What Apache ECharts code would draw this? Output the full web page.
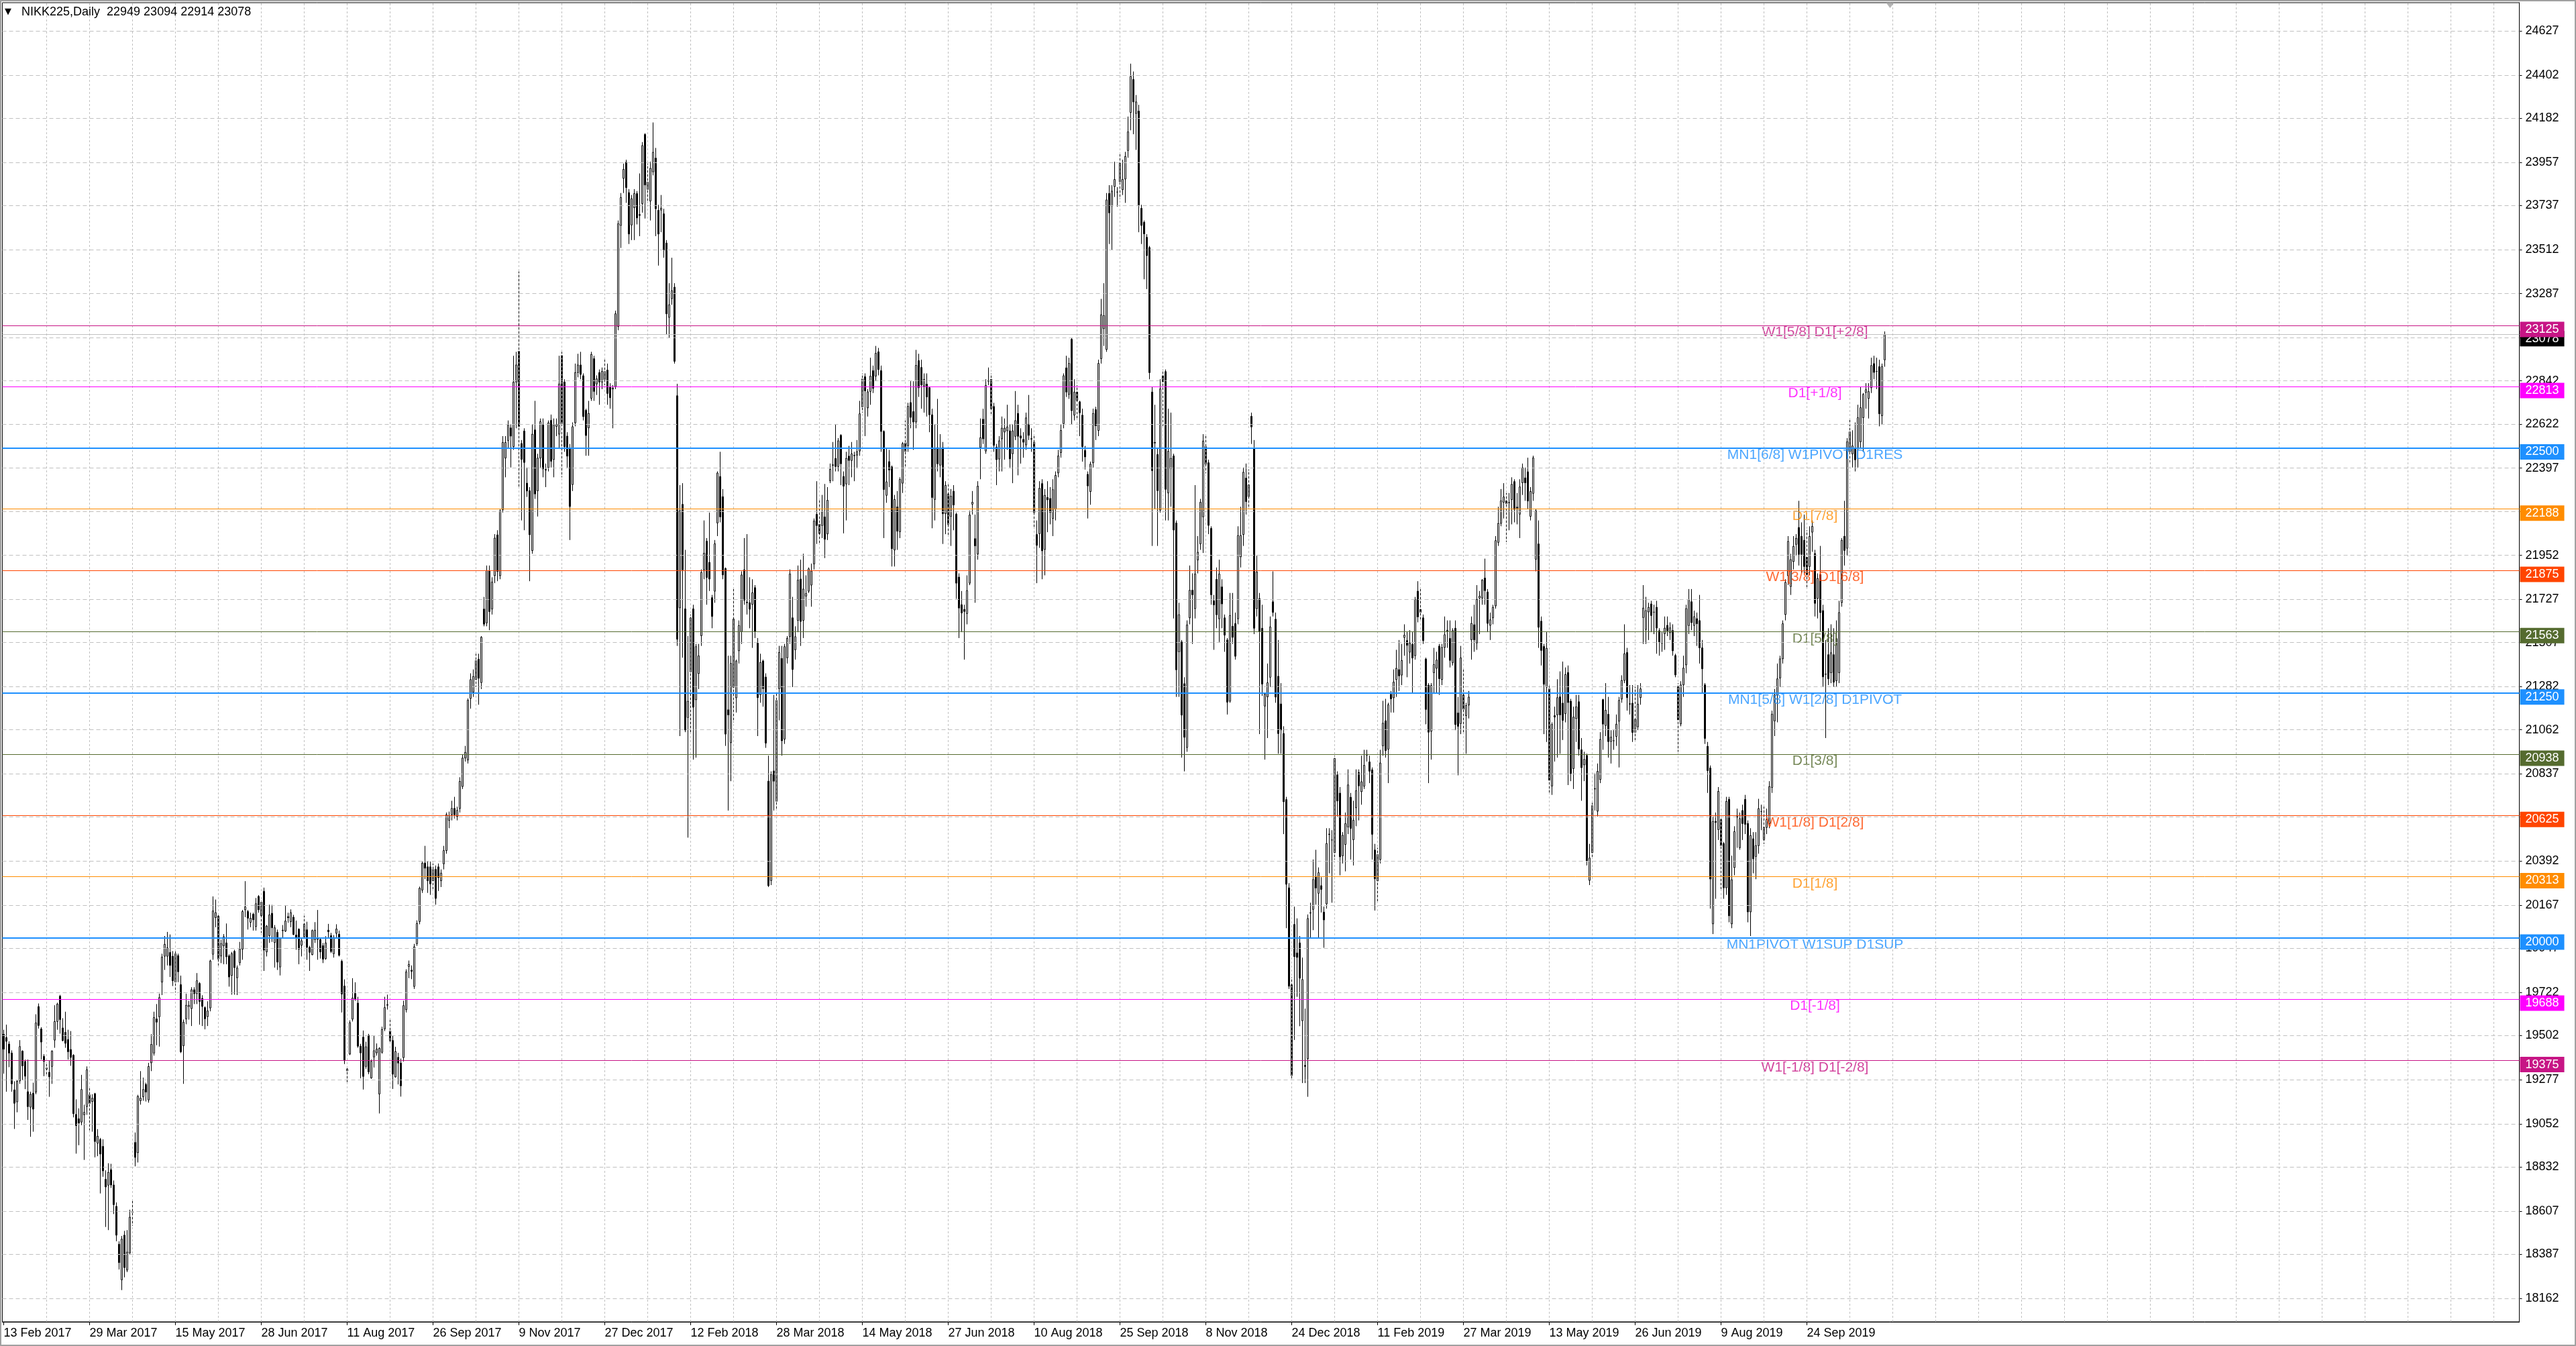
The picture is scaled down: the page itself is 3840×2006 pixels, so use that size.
<!DOCTYPE html>
<html>
<head>
<meta charset="utf-8">
<script src="https://cdn.jsdelivr.net/npm/echarts@6/dist/echarts.min.js"></script>
<style>html,body{margin:0;padding:0;background:#fff;}#c{width:3840px;height:2006px;}</style>
</head>
<body>
<div id="c"></div>
<script>
// ---------------- DATA ----------------
const symbolName = 'NIKK225,Daily';
const opens = [
19509,19492,19459,19413,19225,19164,19271,19423,19370,19216,
19137,19208,19214,19650,19536,19396,19331,19315,19345,19479,
19574,19703,19541,19519,19482,19431,19402,19100,19078,19061,
19098,19140,19200,19166,19206,18953,18972,18937,18769,18739,
18818,18740,18631,18438,18256,18484,18306,18394,18601,18957,
18905,19170,19190,19253,19174,19363,19413,19587,19598,19775,
19907,19907,19926,19907,19775,19910,19762,19450,19587,19650,
19640,19736,19716,19768,19692,19645,19599,19643,19917,20104,
20112,19908,19960,19975,19909,19809,19932,19797,19874,19943,
20144,20135,20080,20121,20058,20212,20114,20238,19929,20012,
20126,19977,20029,19852,20037,20035,20109,20083,20106,20015,
20045,19963,20007,20042,19952,19915,19992,19995,19992,19961,
19895,20040,20012,19920,20024,20019,19881,19755,19322,19408,
19586,19717,19668,19448,19494,19345,19503,19286,19393,19414,
19204,19417,19536,19657,19526,19477,19291,19391,19362,19390,
19634,19855,19836,19753,19971,20084,20244,20382,20363,20363,
20292,20350,20363,20292,20378,20446,20600,20629,20661,20620,
20661,20773,20918,20908,21222,21254,21318,21422,21303,21678,
21607,21874,21678,21848,22056,21848,22185,22448,22538,22602,
22506,22836,22993,22522,22586,22320,22281,21976,22592,22281,
22448,22618,22390,22400,22640,22441,22610,22570,22971,22836,
22560,22496,22313,22628,22884,22923,22868,22692,22602,22753,
22955,22826,22884,22836,22849,22897,22810,22800,22813,23119,
23635,23875,23957,23802,23637,23725,23797,23690,23746,24099,
23818,23759,23908,23978,23712,23713,23694,23545,23166,23261,
23320,22766,21684,22212,21679,21125,21357,21679,21215,21349,
21542,21878,22024,21916,21736,21769,22117,22354,22251,21885,
21164,20996,21279,21225,21465,21563,21878,21713,21710,21702,
21787,21504,21241,21413,21331,20800,20293,20852,20697,21272,
21426,21014,21429,21537,21633,21470,21620,21831,21620,21744,
21769,21800,21908,22161,22110,22104,22148,22061,22332,22410,
22446,22405,22564,22354,22316,22458,22436,22460,22463,22484,
22708,22863,22704,22788,22894,22866,22990,22894,22584,22258,
22430,22403,21979,22199,22072,22320,22525,22511,22731,22685,
22632,22945,22910,22814,22825,22807,22669,22237,22502,22412,
22502,22164,22265,22151,22279,22162,21841,21700,21676,21655,
21810,22213,22037,21958,22502,22646,22484,22840,22850,22711,
22504,22443,22546,22581,22587,22587,22470,22559,22676,22561,
22543,22515,22621,22547,22529,22058,22062,22318,21982,22247,
22242,22140,22188,22372,22476,22624,22908,22773,23054,22667,
22785,22735,22667,22487,22365,22277,22424,22695,22589,22955,
23108,23002,23798,23734,23833,23805,23857,23817,23871,24017,
24211,24379,24206,24218,23722,23651,23574,23522,22785,22528,
22466,22183,22868,22889,22270,22395,22459,22117,21460,21510,
21297,20972,21633,21774,21680,21928,22010,22148,22506,22424,
22089,21720,21829,21628,21791,21633,21520,21208,21590,21604,
21628,21944,22058,22346,22252,22661,22497,21680,21731,21580,
21183,21230,21330,21715,21626,21335,21194,21043,20706,20256,
19761,20069,19924,19975,19578,19350,19384,20127,20146,20314,
20228,20267,20132,20174,20530,20500,20435,20832,20739,20419,
20477,20566,20718,20501,20664,20844,20746,20774,20933,20898,
20858,20449,20291,20400,20980,21108,20963,21243,21225,21318,
21369,21341,21533,21517,21458,21498,21440,21769,21676,21633,
21423,21290,21054,21353,21376,21489,21318,21482,21565,21528,
21404,21580,21148,21094,21240,21134,21188,21521,21598,21505,
21734,21734,21836,21765,21595,21633,21694,22018,22115,22223,
22230,22220,22236,22328,22198,22162,22322,22347,22378,22151,
22268,21932,22010,21616,21487,21279,21271,20775,21134,21138,
21230,21198,21144,21354,21208,20864,21119,21205,20960,20883,
20931,20294,20435,20762,20647,20808,21216,21084,21141,21002,
21006,21028,21106,21219,21314,21456,21195,21198,21049,21077,
21226,21635,21574,21663,21704,21662,21687,21567,21508,21552,
21595,21557,21568,21441,21281,21092,21291,21393,21594,21715,
21594,21629,21619,21480,21291,20978,20867,20072,20595,20553,
20604,20482,20256,20707,20072,20359,20615,20461,20650,20707,
20584,20133,20506,20416,20471,20645,20502,20564,20584,20768,
21107,21240,21326,21424,21650,21848,21793,21920,22008,22094,
22049,22029,21942,21895,22070,21961,21732,21854,21670,21346,
21445,21353,21445,21312,21353,21711,22049,21988,22480,22469,
22500,22500,22531,22654,22783,22752,22807,22930,22890,22914,
22664,22949];
const highs = [
19532,19558,19473,19427,19269,19275,19479,19427,19380,19380,
19216,19262,19611,19666,19545,19407,19367,19374,19427,19657,
19670,19710,19591,19624,19532,19525,19407,19177,19131,19302,
19150,19345,19236,19203,19210,19025,18980,18973,18815,18851,
18848,18763,18651,18453,18480,18506,18510,18614,18664,19008,
19200,19321,19288,19262,19363,19509,19624,19663,19716,19920,
20010,20031,20018,19933,19933,19920,19808,19584,19716,19679,
19749,19749,19821,19775,19708,19651,19677,19889,20212,20196,
20124,19992,20020,20074,19917,19929,19940,19860,19980,20143,
20290,20143,20129,20129,20204,20219,20190,20257,20066,20170,
20169,20066,20043,20003,20066,20164,20129,20146,20118,20089,
20049,19998,20114,20083,19960,20043,20081,20143,19998,19975,
20009,20072,20026,20015,20070,20038,19890,19789,19345,19580,
19795,19774,19700,19460,19528,19471,19511,19380,19500,19462,
19443,19548,19700,19711,19591,19500,19445,19414,19385,19680,
19840,19885,19860,19970,20090,20262,20390,20470,20390,20390,
20380,20370,20380,20350,20470,20640,20645,20700,20720,20670,
20820,20935,20980,21222,21350,21370,21450,21450,21540,21740,
21900,21900,21840,22060,22080,22190,22560,22560,22640,22620,
22970,22990,23400,22540,22600,22400,22300,22620,22740,22470,
22650,22650,22420,22640,22670,22650,22650,22970,22990,22850,
22580,22520,22630,22930,22980,22990,22880,22700,22740,22990,
22970,22870,22900,22910,22950,22930,22830,22820,23200,23660,
23800,23950,23970,23820,23790,23820,23810,23900,24060,24105,
23950,23960,24160,24030,23740,23790,23720,23560,23340,23470,
23340,22827,22310,22320,21980,21540,21650,21700,21500,21500,
21880,22130,22040,22170,21750,22030,22380,22480,22290,21890,
21440,21440,21780,21420,21620,21870,22040,22060,21840,21830,
21800,21530,21450,21420,21350,20930,20850,21240,21250,21490,
21490,21500,21540,21880,21740,21590,21900,21930,21960,21850,
21890,21910,22140,22330,22240,22260,22316,22300,22420,22530,
22620,22550,22570,22380,22480,22510,22530,22480,22540,22740,
22880,22880,22800,22960,22920,23020,23010,22920,22590,22500,
22490,22410,22260,22280,22350,22530,22640,22730,22840,22840,
23000,22980,22950,22880,22880,22810,22700,22620,22750,22570,
22530,22330,22320,22290,22310,22170,21860,21770,21700,21850,
22180,22280,22160,22330,22650,22700,22850,22910,22880,22730,
22520,22560,22660,22650,22720,22620,22620,22790,22720,22600,
22580,22680,22770,22600,22560,22130,22330,22340,22290,22330,
22300,22340,22380,22490,22620,22880,22970,22960,23060,22850,
22820,22740,22700,22510,22380,22430,22700,22710,22950,23260,
23340,23800,23840,23840,23960,23830,24000,23970,24010,24190,
24460,24420,24300,24250,23740,23660,23590,23530,22810,22720,
22500,22850,22900,22900,22700,22680,22470,22130,21710,21520,
21330,21620,21900,21860,22310,22050,22240,22570,22560,22440,
22100,21750,21890,21930,21830,21650,21530,21760,21760,21660,
22100,22200,22400,22420,22390,22680,22540,21950,21760,21700,
21250,21400,21640,21870,21660,21520,21300,21080,20720,20280,
19800,20160,20100,20010,19900,19640,20120,20180,20400,20450,
20360,20310,20160,20560,20560,20550,20930,20850,20770,20540,
20640,20860,20740,20700,20860,20860,20930,20960,20960,20930,
20870,20480,20460,20960,21210,21220,21200,21260,21370,21470,
21520,21500,21600,21560,21570,21560,21740,21820,21780,21650,
21430,21300,21300,21480,21460,21500,21500,21640,21620,21620,
21580,21620,21230,21490,21370,21200,21260,21640,21700,21800,
21770,21830,21935,21780,21660,21700,22050,22200,22290,22320,
22270,22270,22350,22340,22270,22340,22420,22400,22450,22300,
22460,22190,22130,21640,21500,21560,21290,21100,21180,21320,
21360,21410,21380,21390,21220,21180,21240,21240,21020,20950,
20940,20480,20690,20840,20890,21050,21220,21300,21230,21060,
21060,21140,21230,21340,21600,21480,21290,21290,21280,21290,
21300,21800,21740,21710,21720,21700,21720,21580,21560,21640,
21640,21610,21600,21450,21300,21310,21440,21700,21780,21780,
21670,21660,21750,21520,21300,21000,20880,20620,20640,20770,
20620,20490,20720,20720,20420,20570,20660,20640,20680,20730,
20600,20560,20540,20540,20710,20680,20670,20660,20800,21160,
21270,21400,21440,21620,21830,22050,21960,22050,22060,22230,
22120,22160,22080,22100,22130,21980,21860,22000,21700,21520,
21580,21600,21580,21620,21720,22040,22230,22550,22650,22590,
22630,22720,22810,22780,22830,22830,22960,22970,22960,22950,
22930,23094];
const lows = [
19308,19216,19341,19216,19026,19111,19256,19275,19229,19072,
18986,19012,19203,19538,19380,19295,19302,19190,19256,19440,
19532,19512,19473,19440,19380,19348,19085,18900,18943,19045,
18868,19098,19019,19012,18881,18887,18697,18782,18526,18510,
18725,18592,18453,18309,18204,18269,18296,18385,18532,18835,
18855,19150,19170,19166,19160,19321,19400,19453,19446,19709,
19837,19860,19801,19755,19722,19775,19413,19256,19560,19584,
19551,19663,19663,19558,19551,19534,19551,19626,19889,20055,
19860,19872,19866,19866,19752,19711,19711,19709,19860,19889,
20106,20043,20055,20038,20038,20129,20026,19832,19906,19975,
19980,19849,19837,19809,20003,20031,20078,20055,20015,19940,
19866,19906,19998,19889,19832,19912,19975,19889,19895,19872,
19889,19998,19923,19900,20003,19906,19620,19357,19265,19403,
19574,19680,19440,19284,19227,19333,19305,19282,19339,19400,
19105,19410,19525,19635,19465,19230,19288,19253,19191,19370,
19620,19795,19790,19740,19960,20070,20230,20300,20230,20220,
20250,20170,20240,20260,20350,20430,20560,20600,20610,20600,
20640,20760,20900,20890,21170,21230,21280,21190,21270,21590,
21590,21570,21650,21810,21820,21830,22170,22350,22500,22400,
22490,22600,22300,22130,22080,22250,21820,21960,22240,22150,
22400,22350,22300,22380,22400,22350,22560,22500,22350,22480,
22400,22030,22280,22610,22860,22850,22640,22460,22460,22740,
22740,22770,22720,22800,22820,22720,22700,22600,22800,23100,
23520,23800,23750,23540,23560,23560,23640,23580,23700,23670,
23750,23660,23890,23580,23430,23600,23470,23080,23060,23230,
22930,21490,21030,21430,21050,20512,21050,20910,20920,21270,
21490,21830,21700,21770,21580,21710,22050,22120,21830,20980,
20650,20800,21100,21150,21400,21500,21700,21650,21580,21480,
21530,21030,21200,21180,20970,20260,20270,20650,20650,21110,
20930,20990,21400,21500,21280,21420,21560,21490,21530,21690,
21760,21690,21880,22010,22010,22040,21938,22030,22320,22330,
22380,22380,22310,22064,22130,22310,22350,22330,22400,22460,
22680,22560,22660,22720,22780,22840,22870,22480,22040,22220,
22300,21895,21895,21980,22040,22270,22400,22480,22600,22490,
22600,22760,22700,22680,22660,22580,22090,22130,22380,22350,
22010,22060,22050,22000,22080,21730,21530,21560,21420,21600,
21800,22160,21710,21930,22340,22520,22470,22820,22670,22480,
22310,22380,22380,22440,22490,22400,22320,22540,22360,22420,
22450,22490,22540,22480,22090,21810,21990,21830,21850,22070,
22110,22050,22130,22350,22450,22600,22760,22750,22620,22640,
22650,22560,22430,22390,22140,22210,22400,22540,22560,22930,
23020,22990,23540,23510,23780,23730,23770,23790,23750,23980,
24120,24100,24020,23600,23540,23360,23310,22850,22000,22190,
22000,22170,22610,22130,22130,22200,21630,21230,21230,20920,
20850,20950,21600,21500,21630,21860,21980,21964,22370,22060,
21700,21470,21580,21510,21580,21460,21140,21200,21500,21420,
21600,21890,22000,22160,22200,22520,21550,21640,21040,21235,
20910,21020,21280,21640,21200,20940,20940,20530,20050,19740,
19280,19480,19700,19550,19260,19260,19190,20000,20040,20170,
20000,20130,19950,20150,20330,20180,20400,20620,20320,20380,
20340,20530,20400,20370,20570,20600,20680,20760,20900,20790,
20400,20140,20180,20380,20930,20920,20790,21150,21150,21230,
21260,21290,21440,21330,21400,21250,21420,21610,21620,21500,
21090,20790,20910,21250,21250,21240,21290,21430,21480,21380,
21390,21060,20830,21040,21040,20940,21120,21420,21460,21470,
21550,21700,21700,21560,21520,21600,21680,22000,22100,22140,
22020,22080,22110,22120,22110,22040,22260,22230,22190,22130,
22230,21870,21480,21390,21040,21000,20740,20730,20900,20920,
20940,21010,21100,20780,20800,20760,21000,20930,20700,20800,
20370,20270,20410,20650,20620,20790,20960,21030,20920,20890,
20960,20980,20870,21200,21300,21160,21140,21000,21000,21060,
21190,21500,21500,21520,21560,21550,21450,21440,21460,21470,
21540,21520,21440,21330,20950,21080,21230,21350,21550,21570,
21540,21490,21400,21250,20990,20740,20150,20020,20200,20500,
20250,20200,20220,20080,20050,20320,20460,20450,20500,20530,
20080,20010,20330,20300,20430,20550,20480,20530,20560,20740,
21030,21100,21280,21400,21620,21800,21750,21880,21950,21900,
21860,21860,21780,21850,21970,21640,21630,21560,21280,21020,
21290,21300,21280,21280,21300,21690,21900,21950,22420,22400,
22380,22400,22500,22480,22700,22650,22780,22850,22800,22610,
22620,22914];
const closes = [
19433,19473,19413,19256,19157,19269,19446,19348,19295,19140,
19203,19127,19567,19554,19469,19371,19338,19292,19423,19574,
19663,19584,19477,19463,19420,19391,19104,19043,19056,19227,
19111,19328,19156,19183,18962,18989,18898,18812,18730,18805,
18740,18640,18484,18344,18464,18319,18398,18576,18603,18881,
19192,19183,19227,19214,19345,19457,19594,19571,19696,19903,
19968,19950,19860,19782,19920,19828,19420,19571,19657,19657,
19736,19716,19782,19676,19651,19588,19628,19883,20138,20129,
19892,19971,20006,19904,19801,19920,19849,19847,19944,20135,
20159,20101,20101,20093,20175,20144,20183,19938,20061,20118,
20052,20052,19877,19998,20040,20087,20103,20129,20018,20000,
19943,19986,20070,19952,19927,20038,20040,19993,19929,19892,
19975,20032,19931,20003,20046,19912,19714,19377,19331,19568,
19694,19686,19448,19414,19294,19445,19317,19371,19425,19434,
19437,19534,19645,19660,19477,19305,19421,19362,19246,19655,
19827,19865,19830,19955,20074,20254,20382,20356,20292,20276,
20350,20202,20308,20331,20446,20629,20625,20661,20629,20651,
20799,20918,20947,21213,21318,21334,21415,21325,21534,21601,
21874,21665,21816,22040,21870,22178,22528,22528,22618,22560,
22836,22923,22608,22442,22426,22280,22057,22570,22265,22448,
22634,22393,22387,22628,22432,22618,22620,22826,22624,22506,
22458,22201,22608,22884,22923,22875,22660,22563,22676,22977,
22788,22852,22836,22890,22890,22778,22756,22805,23184,23643,
23777,23921,23828,23591,23771,23797,23673,23686,24042,23841,
23856,23926,24008,23720,23591,23723,23509,23184,23230,23302,
22942,21524,22179,21878,21061,21208,21633,21177,21486,21439,
21865,21963,21839,21831,21640,22011,22372,22148,21852,21040,
21138,21401,21627,21413,21594,21852,21723,21710,21677,21761,
21563,21226,21406,21272,20994,20267,20834,20800,21212,21457,
21006,21486,21529,21857,21370,21537,21826,21615,21780,21757,
21883,21872,22127,22104,22063,22174,22034,22233,22391,22414,
22405,22536,22419,22305,22447,22436,22470,22462,22481,22674,
22852,22791,22786,22866,22804,22983,22900,22584,22288,22327,
22387,21986,22237,22075,22339,22522,22481,22712,22656,22632,
22921,22807,22821,22850,22760,22669,22247,22495,22419,22497,
22164,22309,22109,22254,22209,21810,21683,21658,21666,21772,
22158,22223,22000,22305,22552,22546,22818,22843,22701,22513,
22440,22536,22601,22601,22607,22444,22587,22639,22559,22550,
22529,22653,22564,22545,22170,22003,22294,21975,22258,22235,
22171,22287,22360,22459,22589,22868,22785,22931,22690,22785,
22742,22679,22506,22454,22306,22417,22676,22613,22931,23179,
23175,23765,23699,23810,23869,23805,23951,23869,23987,24112,
24395,24265,24265,23739,23635,23592,23481,22884,22384,22525,
22282,22801,22837,22289,22483,22447,22081,21368,21649,21137,
21024,21597,21774,21751,21857,21968,22223,22535,22417,22105,
21751,21699,21649,21857,21704,21545,21203,21645,21534,21437,
22053,22053,22376,22226,22311,22607,21580,21867,21563,21295,
21244,21302,21587,21661,21229,21043,21061,20695,20274,19754,
19298,19905,19901,19795,19788,19345,20099,20129,20298,20255,
20333,20248,20092,20482,20528,20500,20916,20699,20414,20524,
20583,20781,20559,20601,20751,20776,20797,20881,20935,20851,
20529,20302,20426,20893,21096,20956,21190,21220,21306,21376,
21337,21416,21545,21493,21505,21428,21727,21638,21661,21517,
21166,21050,21288,21395,21418,21323,21482,21547,21570,21416,
21568,21089,21080,21429,21167,21186,21229,21605,21521,21727,
21744,21826,21772,21605,21623,21687,22027,22115,22230,22250,
22215,22222,22314,22186,22193,22301,22399,22322,22229,22278,
22449,22179,21585,21467,21294,21478,20805,21089,21127,21226,
21138,21110,21344,21201,20839,21127,21179,20964,20869,20911,
20393,20408,20676,20760,20850,21013,21091,21162,21002,21025,
21006,21091,21212,21314,21450,21226,21193,21049,21115,21193,
21271,21683,21670,21687,21645,21662,21581,21510,21505,21581,
21567,21582,21465,21342,21113,21291,21377,21680,21727,21609,
21639,21603,21480,21373,21018,20854,20301,20594,20590,20748,
20471,20256,20697,20113,20297,20543,20621,20609,20584,20580,
20133,20523,20404,20471,20660,20645,20564,20604,20772,21142,
21240,21322,21424,21603,21814,22023,21930,21998,22039,21957,
21957,21895,21854,22049,22100,21707,21834,21660,21332,21345,
21322,21455,21305,21527,21660,22029,21977,22531,22582,22510,
22439,22654,22705,22773,22797,22787,22920,22885,22890,22674,
22914,23078];

// x-axis labels (one every 32 bars, starting with the first bar)
const xLabels = ['13 Feb 2017','29 Mar 2017','15 May 2017','28 Jun 2017','11 Aug 2017','26 Sep 2017',
  '9 Nov 2017','27 Dec 2017','12 Feb 2018','28 Mar 2018','14 May 2018','27 Jun 2018','10 Aug 2018',
  '25 Sep 2018','8 Nov 2018','24 Dec 2018','11 Feb 2019','27 Mar 2019','13 May 2019','26 Jun 2019',
  '9 Aug 2019','24 Sep 2019'];
// y-axis tick labels
const yTicks = [24627,24402,24182,23957,23737,23512,23287,23062,22842,22622,22397,22177,21952,21727,21507,
  21282,21062,20837,20617,20392,20167,19947,19722,19502,19277,19052,18832,18607,18387,18162];
// horizontal level lines
const levels = [23125,22813,22500,22188,21875,21563,21250,20938,20625,20313,20000,19688,19375];
const levelNames = ['W1[5/8] D1[+2/8]','D1[+1/8]','MN1[6/8] W1PIVOT D1RES','D1[7/8]','W1[3/8] D1[6/8]',
  'D1[5/8]','MN1[5/8] W1[2/8] D1PIVOT','D1[3/8]','W1[1/8] D1[2/8]','D1[1/8]','MN1PIVOT W1SUP D1SUP',
  'D1[-1/8]','W1[-1/8] D1[-2/8]'];
const bidPrice = 23078;

// ---------------- STYLE / LAYOUT ----------------
const levelColors = ['#C71585','#FF00FF','#1E90FF','#FF8C00','#FF4500','#556B2F','#1E90FF','#556B2F',
  '#FF4500','#FF8C00','#1E90FF','#FF00FF','#C71585'];
const levelWidths = [1,1,2,1,1,1,2,1,1,1,2,1,1];
const FONT = "'Liberation Sans', Arial, sans-serif";
const TOTAL_SLOTS = 938;     // visible bar slots (chart has empty space on the right)
const LABEL_EVERY = 32;
const GRID_EVERY = 16;
const TEXT_BAR = 675;        // bar where the level captions are centred
const SHIFT_BAR = 703;       // chart-shift marker
const Y_MIN = 18042, Y_MAX = 24771;
const GRID_LEFT = 3.5, GRID_TOP = 4, GRID_W = 3752, GRID_H = 1966;

const N = Math.min(opens.length, highs.length, lows.length, closes.length);
const candleData = [];
for (let i = 0; i < N; i++) candleData.push([opens[i], closes[i], lows[i], highs[i]]);
const categories = [];
for (let i = 0; i < TOTAL_SLOTS; i++) categories.push(String(i));
const vGrid = [];
for (let i = GRID_EVERY; i < TOTAL_SLOTS; i += GRID_EVERY) vGrid.push({ xAxis: i });
const isLabelIdx = (i) => i % LABEL_EVERY === 0 && (i / LABEL_EVERY) < xLabels.length;

const header = symbolName + '  ' + opens[N-1] + ' ' + highs[N-1] + ' ' + lows[N-1] + ' ' + closes[N-1];

const levelLines = [{
  yAxis: bidPrice,
  lineStyle: { color: '#C0C0C0', width: 1, type: 'solid' },
  label: { formatter: String(bidPrice), backgroundColor: '#000000' }
}].concat(levels.map((v, i) => ({
  yAxis: v,
  lineStyle: { color: levelColors[i], width: levelWidths[i], type: 'solid' },
  label: { formatter: String(v), backgroundColor: levelColors[i] }
})));

const chart = echarts.init(document.getElementById('c'), null, { renderer: 'canvas' });
chart.setOption({
  animation: false,
  backgroundColor: '#ffffff',
  title: [
    { text: '▼', left: 7, top: 11, padding: 0,
      textStyle: { fontSize: 13, color: '#000', fontWeight: 'normal', fontFamily: "'DejaVu Sans', sans-serif" } },
    { text: header, left: 32, top: 9, padding: 0,
      textStyle: { fontSize: 18, color: '#000', fontWeight: 'normal', fontFamily: FONT } }
  ],
  graphic: [{
    type: 'rect', silent: true, z: 100,
    shape: { x: 1, y: 1, width: 3838, height: 2004 },
    style: { fill: 'none', stroke: '#a0a0a0', lineWidth: 2 }
  }],
  grid: { left: GRID_LEFT, top: GRID_TOP, width: GRID_W, height: GRID_H,
          show: true, borderColor: '#000', borderWidth: 1, backgroundColor: '#fff' },
  xAxis: {
    type: 'category', data: categories, boundaryGap: true,
    axisLine: { show: true, lineStyle: { color: '#000', width: 1 } },
    axisTick: { show: true, alignWithLabel: true, interval: (i) => isLabelIdx(i), length: 5,
                lineStyle: { color: '#000' } },
    axisLabel: { show: true, interval: (i) => isLabelIdx(i), align: 'left', margin: 8,
                 color: '#000', fontSize: 18, fontFamily: FONT,
                 formatter: (v) => { const i = Number(v); return isLabelIdx(i) ? xLabels[i / LABEL_EVERY] : ''; } },
    splitLine: { show: false }
  },
  yAxis: {
    type: 'value', position: 'right', min: Y_MIN, max: Y_MAX, scale: true,
    axisLine: { show: true, lineStyle: { color: '#000', width: 1 } },
    axisTick: { show: true, customValues: yTicks, length: 4, lineStyle: { color: '#000' } },
    axisLabel: { show: true, customValues: yTicks, margin: 9, color: '#000', fontSize: 18, fontFamily: FONT,
                 formatter: (v) => String(v) },
    splitLine: { show: false }
  },
  series: [
    { // grid lines
      type: 'line', data: [], z: 1, silent: true,
      markLine: {
        silent: true, symbol: ['none', 'none'], animation: false,
        label: { show: false },
        emphasis: { disabled: true },
        data: yTicks.map(v => ({ yAxis: v, lineStyle: { color: '#c0c0c0', width: 1, type: [6, 4] } }))
          .concat(vGrid.map(o => ({ xAxis: o.xAxis, lineStyle: { color: '#c0c0c0', width: 1, type: [3, 3] } })))
      }
    },
    { // candles
      type: 'candlestick', name: 'NIKK225', data: candleData, z: 2,
      large: false, progressive: 0, barWidth: 2, silent: true,
      itemStyle: { color: '#ffffff', color0: '#000000', borderColor: '#000000', borderColor0: '#000000', borderWidth: 1 }
    },
    { // level lines and price tags
      type: 'line', data: [], z: 3, silent: true,
      markLine: {
        silent: true, symbol: ['none', 'none'], animation: false,
        emphasis: { disabled: true },
        label: { show: true, position: 'end', distance: 1, offset: [0, 6], color: '#fff', fontSize: 18,
                 fontFamily: FONT, padding: [3, 8, 2, 8] },
        data: levelLines
      }
    },
    { // level captions
      type: 'scatter', z: 4, silent: true, symbolSize: 0,
      data: levels.map((v, i) => ({ value: [TEXT_BAR, v], label: { color: levelColors[i] } })),
      label: { show: true, position: 'bottom', distance: 0, fontSize: 21, fontFamily: FONT,
               formatter: (p) => levelNames[p.dataIndex] }
    },
    { // chart shift marker
      type: 'scatter', z: 5, silent: true, clip: false,
      data: [[SHIFT_BAR, Y_MAX]],
      symbol: 'triangle', symbolRotate: 180, symbolSize: [12, 8], symbolOffset: [0, 4],
      itemStyle: { color: '#a0a0a0' }
    }
  ]
});
</script>
</body>
</html>
